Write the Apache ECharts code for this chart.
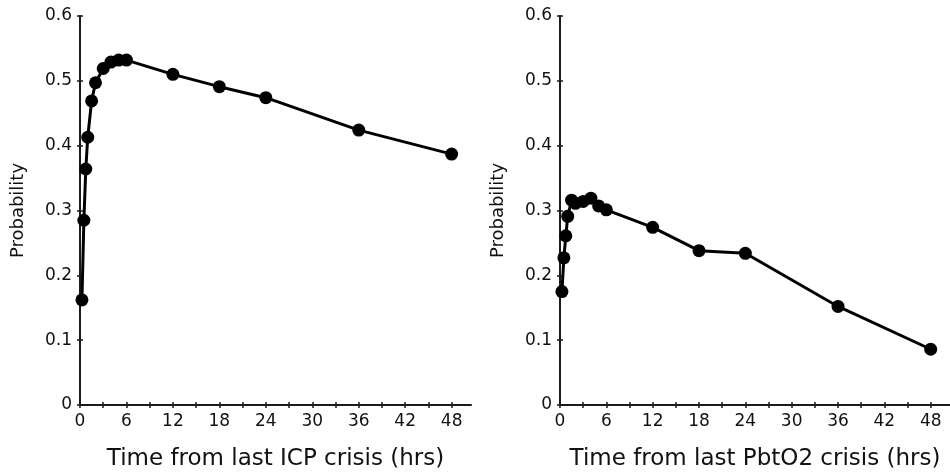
<!DOCTYPE html>
<html>
<head>
<meta charset="utf-8">
<script src="https://cdn.jsdelivr.net/npm/echarts@6/dist/echarts.min.js"></script>
<style>
html,body{margin:0;padding:0;background:#fff;}
#c{width:950px;height:476px;}
</style>
</head>
<body>
<div id="c"></div>
<script>
// ---- data ----
var hours = [0.25, 0.5, 0.75, 1, 1.5, 2, 3, 4, 5, 6, 12, 18, 24, 36, 48];
var icpProb = [0.162, 0.285, 0.364, 0.413, 0.469, 0.497, 0.519, 0.529, 0.532, 0.532, 0.510, 0.491, 0.474, 0.424, 0.387];
var pbtProb = [0.175, 0.227, 0.261, 0.291, 0.316, 0.311, 0.314, 0.319, 0.307, 0.301, 0.274, 0.238, 0.234, 0.152, 0.086];
var xTickValues = [0, 3, 6, 9, 12, 15, 18, 21, 24, 27, 30, 33, 36, 39, 42, 45, 48];
var xLabelValues = [0, 6, 12, 18, 24, 30, 36, 42, 48];
var yTickValues = [0, 0.1, 0.2, 0.3, 0.4, 0.5, 0.6];
var xTitles = ['Time from last ICP crisis (hrs)', 'Time from last PbtO2 crisis (hrs)'];
var yTitle = 'Probability';

function pairs(xs, ys) { return xs.map(function (x, i) { return [x, ys[i]]; }); }

var FONT = 'DejaVu Sans';
var AX = '#1a1a1a';

function xMain(gi) {
  return {
    type: 'value', gridIndex: gi, position: 'bottom', min: 0, max: 50.5,
    axisLine: { show: true, lineStyle: { color: AX, width: 2 } },
    axisTick: { show: true, length: 3, customValues: xTickValues, lineStyle: { color: AX, width: 1.5 } },
    axisLabel: { customValues: xLabelValues, color: '#111', fontFamily: FONT, fontSize: 17, margin: 8 },
    splitLine: { show: false },
    name: xTitles[gi], nameLocation: 'middle', nameGap: 43,
    nameTextStyle: { color: '#111', fontFamily: FONT, fontSize: 23 }
  };
}
function xInner(gi) {
  return {
    type: 'value', gridIndex: gi, position: 'bottom', min: 0, max: 50.5,
    axisLine: { show: false },
    axisTick: { show: true, inside: true, length: 3, customValues: xTickValues, lineStyle: { color: AX, width: 1.5 } },
    axisLabel: { show: false }, splitLine: { show: false }
  };
}
function yMain(gi) {
  return {
    type: 'value', gridIndex: gi, position: 'left', min: 0, max: 0.6,
    axisLine: { show: true, lineStyle: { color: AX, width: 2 } },
    axisTick: { show: true, length: 3, customValues: yTickValues, lineStyle: { color: AX, width: 1.5 } },
    axisLabel: { customValues: yTickValues, color: '#111', fontFamily: FONT, fontSize: 17, margin: 8 },
    splitLine: { show: false },
    name: yTitle, nameLocation: 'middle', nameRotate: 90, nameGap: 53,
    nameTextStyle: { color: '#111', fontFamily: FONT, fontSize: 18 }
  };
}
function yInner(gi) {
  return {
    type: 'value', gridIndex: gi, position: 'left', min: 0, max: 0.6,
    axisLine: { show: false },
    axisTick: { show: true, inside: true, length: 3, customValues: yTickValues, lineStyle: { color: AX, width: 1.5 } },
    axisLabel: { show: false }, splitLine: { show: false }
  };
}

function lineSeries(xi, yi, data) {
  return {
    type: 'line', xAxisIndex: xi, yAxisIndex: yi, data: data,
    symbol: 'circle', symbolSize: 13, clip: false,
    lineStyle: { color: '#000', width: 3 },
    itemStyle: { color: '#000' },
    animation: false
  };
}

var chart = echarts.init(document.getElementById('c'), null, { renderer: 'canvas' });
chart.setOption({
  animation: false,
  backgroundColor: '#fff',
  grid: [
    { left: 80, top: 16, width: 391, height: 389 },
    { left: 560, top: 16, width: 392, height: 389 }
  ],
  xAxis: [xMain(0), xMain(1), xInner(0), xInner(1)],
  yAxis: [yMain(0), yMain(1), yInner(0), yInner(1)],
  series: [
    lineSeries(0, 0, pairs(hours, icpProb)),
    lineSeries(1, 1, pairs(hours, pbtProb))
  ]
});
</script>
</body>
</html>
